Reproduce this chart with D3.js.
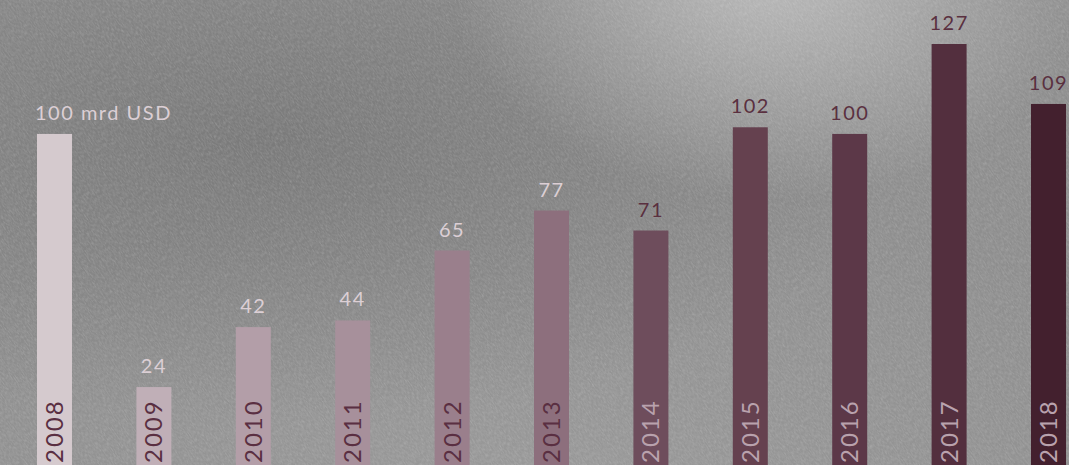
<!DOCTYPE html>
<html>
<head>
<meta charset="utf-8">
<script src="https://cdn.jsdelivr.net/npm/d3@7"></script>
<style>
html,body{margin:0;padding:0;background:#8a8a8a;overflow:hidden;}
svg{display:block;}
text{font-family:"Lato","Open Sans",sans-serif;}
</style>
</head>
<body>
<div id="chart"></div>
<script>
const years = ["2008","2009","2010","2011","2012","2013","2014","2015","2016","2017","2018"];
const values = [100,24,42,44,65,77,71,102,100,127,109];
const barColors = ["#d5cace","#c0afb7","#b39ea8","#a7909b","#9a7f8c","#8d6f7d","#6e4d5c","#65414f","#5c3848","#532f3e","#43202e"];
const valueLabelColors = ["#dccfd5","#dccfd5","#dccfd5","#dccfd5","#dccfd5","#dccfd5","#5a3040","#5a3040","#5a3040","#5a3040","#5a3040"];
const yearLabelColors = ["#5a2f42","#5a2f42","#5a2f42","#5a2f42","#5a2f42","#5a2f42","#b9a2ad","#b9a2ad","#b9a2ad","#b9a2ad","#b9a2ad"];
const unitLabel = "100 mrd USD";

const W = 1069, H = 465;
const svg = d3.select("#chart").append("svg").attr("width", W).attr("height", H);
const defs = svg.append("defs");

const rg1 = defs.append("radialGradient").attr("id","bgDark").attr("cx","0.25").attr("cy","0.3").attr("r","0.6");
rg1.append("stop").attr("offset","0").attr("stop-color","#6f6f6f").attr("stop-opacity",0.65);
rg1.append("stop").attr("offset","1").attr("stop-color","#6f6f6f").attr("stop-opacity",0);
const rg2 = defs.append("radialGradient").attr("id","bgLight").attr("cx","0.72").attr("cy","-0.05").attr("r","0.3")
  .attr("gradientTransform","translate(0.72 -0.05) scale(1 1.6) translate(-0.72 0.05)");
rg2.append("stop").attr("offset","0").attr("stop-color","#c4c4c4").attr("stop-opacity",0.8);
rg2.append("stop").attr("offset","1").attr("stop-color","#c4c4c4").attr("stop-opacity",0);
const rg3 = defs.append("radialGradient").attr("id","bgLow").attr("cx","0.5").attr("cy","1.1").attr("r","0.7");
rg3.append("stop").attr("offset","0").attr("stop-color","#a2a2a2").attr("stop-opacity",0.6);
rg3.append("stop").attr("offset","1").attr("stop-color","#a2a2a2").attr("stop-opacity",0);

const f = defs.append("filter").attr("id","noise").attr("x",0).attr("y",0).attr("width","100%").attr("height","100%");
f.append("feTurbulence").attr("type","fractalNoise").attr("baseFrequency","0.9 0.3").attr("numOctaves",2).attr("seed",4).attr("result","t");
f.append("feColorMatrix").attr("type","matrix")
  .attr("values","0 0 0 0 1  0 0 0 0 1  0 0 0 0 1  0 0 0 -1.6 1.0").attr("in","t");

svg.append("rect").attr("width",W).attr("height",H).attr("fill","#8e8e8e");
svg.append("rect").attr("width",W).attr("height",H).attr("fill","url(#bgLow)");
svg.append("rect").attr("width",W).attr("height",H).attr("fill","url(#bgDark)");
svg.append("rect").attr("width",W).attr("height",H).attr("fill","url(#bgLight)");
svg.append("g").attr("transform","rotate(-35 534 232)")
  .append("rect").attr("x",-300).attr("y",-400).attr("width",1700).attr("height",1300)
  .attr("filter","url(#noise)").attr("opacity",0.22);

const x = d3.scaleBand().domain(years).range([37,1066]).paddingInner(0.648).paddingOuter(0);
const y = d3.scaleLinear().domain([0,127]).range([467,44]);

const data = years.map((yr,i)=>({yr, v:values[i], i}));

svg.append("g").selectAll("rect").data(data).join("rect")
  .attr("x", d=>x(d.yr)).attr("width", x.bandwidth())
  .attr("y", d=>y(d.v)).attr("height", d=>y(0)-y(d.v))
  .attr("fill", d=>barColors[d.i]);

svg.append("g").selectAll("text").data(data).join("text")
  .attr("x", d=> d.i===0 ? x(d.yr)-2 : x(d.yr)+x.bandwidth()/2)
  .attr("y", d=>y(d.v)-14)
  .attr("text-anchor", d=> d.i===0 ? "start" : "middle")
  .attr("font-size", 20)
  .attr("letter-spacing", 1.5)
  .attr("fill", d=>valueLabelColors[d.i])
  .text(d=> d.i===0 ? unitLabel : d.v);

svg.append("g").selectAll("text").data(data).join("text")
  .attr("transform", d=>`translate(${x(d.yr)+x.bandwidth()/2+8.5},463) rotate(-90)`)
  .attr("text-anchor","start")
  .attr("font-size", 24)
  .attr("letter-spacing", 2)
  .attr("fill", d=>yearLabelColors[d.i])
  .text(d=>d.yr);
</script>
</body>
</html>
